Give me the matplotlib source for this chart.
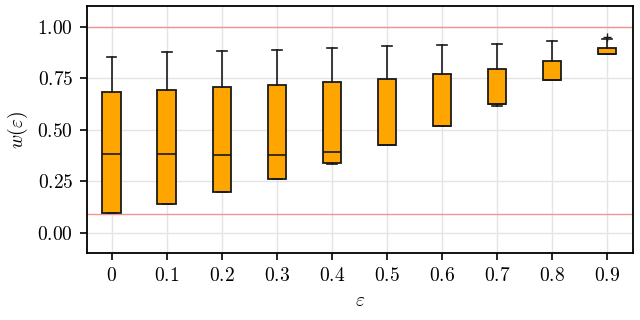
import matplotlib
matplotlib.use('Agg')
import matplotlib.pyplot as plt
import numpy as np

plt.rcParams['font.family'] = 'serif'
plt.rcParams['font.serif'] = ['cmr10']
plt.rcParams['mathtext.fontset'] = 'cm'
plt.rcParams['axes.formatter.use_mathtext'] = True

eps_labels = ['0', '0.1', '0.2', '0.3', '0.4', '0.5', '0.6', '0.7', '0.8', '0.9']
q1 = [0.094, 0.139, 0.196, 0.262, 0.338, 0.427, 0.519, 0.623, 0.739, 0.867]
med = [0.382, 0.382, 0.379, 0.377, 0.390, 0.427, 0.519, 0.623, 0.739, 0.867]
q3 = [0.681, 0.694, 0.705, 0.718, 0.731, 0.746, 0.769, 0.793, 0.835, 0.896]
whislo = [0.094, 0.139, 0.196, 0.262, 0.335, 0.425, 0.516, 0.615, 0.739, 0.865]
whishi = [0.854, 0.875, 0.880, 0.888, 0.896, 0.905, 0.911, 0.917, 0.929, 0.940]
fliers = [[], [], [], [], [], [], [], [], [], [0.950]]

y_ticks = [0.0, 0.25, 0.5, 0.75, 1.0]
y_labels = ['0.00', '0.25', '0.50', '0.75', '1.00']
ref_lines = [1.0, 0.092]

stats = []
for i in range(len(eps_labels)):
    stats.append(dict(q1=q1[i], med=med[i], q3=q3[i], whislo=whislo[i],
                      whishi=whishi[i], fliers=fliers[i]))

fig = plt.figure(figsize=(6.4, 3.2), dpi=100)
ax = fig.add_axes([0.136, 0.209, 0.853, 0.772])

ax.grid(True, color='#e4e4e4', linewidth=1.0)
for y in ref_lines:
    ax.axhline(y, color='#f09696', linewidth=1.0, zorder=2.5)

ax.bxp(stats, positions=np.arange(len(eps_labels)), widths=0.34,
       patch_artist=True, showfliers=True,
       boxprops=dict(facecolor='#ffa500', edgecolor='#1a1a1a', linewidth=1.3),
       medianprops=dict(color='#1a1a1a', linewidth=1.2),
       whiskerprops=dict(color='#1a1a1a', linewidth=1.2),
       capprops=dict(color='#1a1a1a', linewidth=1.2),
       flierprops=dict(marker='+', markeredgecolor='#1a1a1a', markersize=6),
       zorder=3)

ax.set_xlim(-0.45, 9.47)
ax.set_ylim(-0.1, 1.1)
ax.set_xticks(np.arange(len(eps_labels)))
ax.set_xticklabels(['$%s$' % s for s in eps_labels])
ax.set_yticks(y_ticks)
ax.set_yticklabels(['$%s$' % s for s in y_labels])
ax.tick_params(labelsize=14, width=1.2, length=5, pad=5)
for sp in ax.spines.values():
    sp.set_linewidth(1.3)
ax.set_xlabel(r'$\varepsilon$', fontsize=14, labelpad=5)
ax.set_ylabel(r'$w(\varepsilon)$', fontsize=14, labelpad=5)

fig.savefig('out.png', dpi=100)
